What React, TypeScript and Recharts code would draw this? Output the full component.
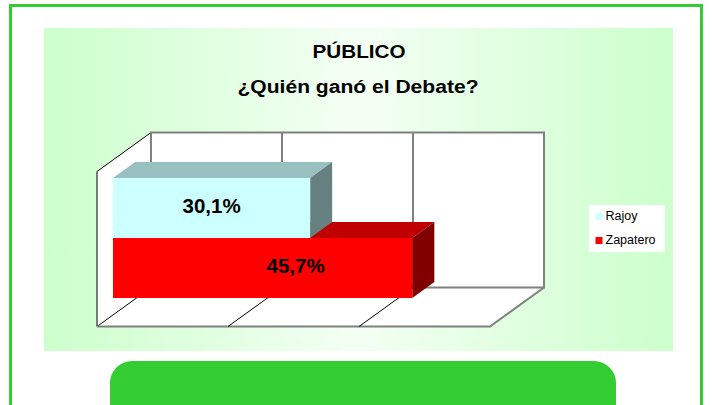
import React from 'react';
import { BarChart, Bar, XAxis, YAxis, ReferenceArea, ReferenceLine } from 'recharts';

// ---- data ----
const categories = ['Zapatero', 'Rajoy']; // drawn bottom-up (axis reversed)
const values = [45.7, 30.1];
const valueLabels = ['45,7%', '30,1%'];
const legendNames = ['Rajoy', 'Zapatero'];
const axisDomain = [0, 60];
const innerGridTicks = [20, 40];
const titleLines = ['PÚBLICO', '¿Quién ganó el Debate?'];

const data = categories.map((name, i) => ({ name, value: values[i], label: valueLabels[i] }));

// ---- styles ----
const FONT = '"Liberation Sans", Arial, Helvetica, sans-serif';
const COLORS: Record<string, { front: string; top: string; side: string }> = {
  Rajoy: { front: '#ccffff', top: '#99c0c0', side: '#668080' },
  Zapatero: { front: '#ff0000', top: '#c00000', side: '#800000' },
};
const LABEL_POS: Record<string, number> = { Rajoy: 0.5, Zapatero: 0.61 };

// 3D depth geometry (styling)
const BAR_DX = 22;
const BAR_DY = -16;
const BACK_DX = 38;
const BACK_DY = -27.5;
const FRONT_DX = -16;
const FRONT_DY = 11.5;
const PAD_TOP = 18;
const PAD_BOTTOM = 17;
const GRAY = '#808080';

const pts = (arr: number[][]) => arr.map((p) => `${p[0]},${p[1]}`).join(' ');

const WallsShape = (props: any) => {
  const { x, y, width, height } = props;
  const left = x;
  const right = x + width;
  const top = y - PAD_TOP;
  const bottom = y + height + PAD_BOTTOM;
  const bl = [left + BACK_DX, bottom + BACK_DY];
  const tl = [left + BACK_DX, top + BACK_DY];
  const tr = [right + BACK_DX, top + BACK_DY];
  const br = [right + BACK_DX, bottom + BACK_DY];
  const ftl = [left + FRONT_DX, top + FRONT_DY];
  const fbl = [left + FRONT_DX, bottom + FRONT_DY];
  const fbr = [right + FRONT_DX, bottom + FRONT_DY];
  return (
    <g>
      <polygon points={pts([tl, tr, br, bl])} fill="#ffffff" />
      <polygon points={pts([ftl, tl, bl, fbl])} fill="#ffffff" />
      <polygon points={pts([fbl, bl, br, fbr])} fill="#ffffff" />
      {/* left wall */}
      <polyline points={pts([fbl, ftl, tl])} fill="none" stroke="#000" strokeWidth={1} />
      <line x1={fbl[0]} y1={fbl[1]} x2={bl[0]} y2={bl[1]} stroke="#000" strokeWidth={1} />
      {/* back wall outline */}
      <polygon points={pts([tl, tr, br, bl])} fill="none" stroke={GRAY} strokeWidth={2} />
      {/* floor front & right edge */}
      <polyline points={pts([fbl, fbr, br])} fill="none" stroke={GRAY} strokeWidth={2} />
    </g>
  );
};

const GridShape = (props: any) => {
  const { x1, y1, y2 } = props;
  const top = Math.min(y1, y2) - PAD_TOP;
  const bottom = Math.max(y1, y2) + PAD_BOTTOM;
  return (
    <g>
      <line x1={x1 + BACK_DX} y1={top + BACK_DY} x2={x1 + BACK_DX} y2={bottom + BACK_DY} stroke={GRAY} strokeWidth={2} />
      <line x1={x1 + BACK_DX} y1={bottom + BACK_DY} x2={x1 + FRONT_DX} y2={bottom + FRONT_DY} stroke="#000" strokeWidth={1} />
    </g>
  );
};

const Bar3D = (props: any) => {
  const { x, y, width, height, payload } = props;
  const c = COLORS[payload.name];
  const top = pts([[x, y], [x + BAR_DX, y + BAR_DY], [x + width + BAR_DX, y + BAR_DY], [x + width, y]]);
  const side = pts([[x + width, y], [x + width + BAR_DX, y + BAR_DY], [x + width + BAR_DX, y + height + BAR_DY], [x + width, y + height]]);
  return (
    <g>
      <polygon points={top} fill={c.top} />
      <polygon points={side} fill={c.side} />
      <rect x={x} y={y} width={width} height={height} fill={c.front} />
      <text
        x={x + width * LABEL_POS[payload.name]}
        y={y + height / 2 + 4.5}
        textAnchor="middle"
        fontFamily={FONT}
        fontWeight="bold"
        fontSize={20.5}
        fill="#000"
      >
        {payload.label}
      </text>
    </g>
  );
};

export default function App() {
  return (
    <div style={{ position: 'absolute', left: 0, top: 0, width: 712, height: 405, overflow: 'hidden', background: '#ffffff' }}>
      {/* outer green frame */}
      <div style={{ position: 'absolute', left: 9, top: 4, width: 694, height: 460, boxSizing: 'border-box', border: '3px solid #33cc33' }} />
      {/* gradient panel */}
      <div
        style={{
          position: 'absolute',
          left: 44,
          top: 28,
          width: 629,
          height: 323,
          background: 'linear-gradient(to right, #ccffcc 0%, #f4fff4 50%, #ccffcc 100%)',
        }}
      />
      {/* green rounded box */}
      <div style={{ position: 'absolute', left: 110, top: 361, width: 506, height: 100, borderRadius: 22, background: '#33cc33' }} />

      <div style={{ position: 'absolute', left: 0, top: 0 }}>
        <BarChart
          width={712}
          height={405}
          data={data}
          layout="vertical"
          margin={{ top: 178, right: 206, bottom: 107, left: 113 }}
          barCategoryGap={0}
          barGap={0}
        >
          <XAxis type="number" domain={axisDomain} hide />
          <YAxis type="category" dataKey="name" hide reversed />
          <ReferenceArea x1={axisDomain[0]} x2={axisDomain[1]} ifOverflow="visible" shape={WallsShape} zIndex={-90} />
          {innerGridTicks.map((t) => (
            <ReferenceLine key={t} x={t} ifOverflow="visible" shape={GridShape} zIndex={-80} />
          ))}
          <Bar dataKey="value" isAnimationActive={false} shape={Bar3D} zIndex={300} />
        </BarChart>
      </div>

      {/* title + legend */}
      <svg width={712} height={405} style={{ position: 'absolute', left: 0, top: 0, pointerEvents: 'none' }}>
        <text x={359} y={57.5} textAnchor="middle" fontFamily={FONT} fontWeight="bold" fontSize={17.5} textLength={93} lengthAdjust="spacingAndGlyphs" fill="#000">
          {titleLines[0]}
        </text>
        <text x={358} y={92.5} textAnchor="middle" fontFamily={FONT} fontWeight="bold" fontSize={17.5} textLength={241} lengthAdjust="spacingAndGlyphs" fill="#000">
          {titleLines[1]}
        </text>
        <rect x={589} y={205} width={76} height={47} fill="#ffffff" />
        {legendNames.map((n, i) => (
          <g key={n}>
            <rect x={595.5} y={213 + i * 24} width={7} height={7} fill={COLORS[n].front} />
            <text x={605.5} y={220 + i * 24} fontFamily={FONT} fontSize={12.5} fill="#000">
              {n}
            </text>
          </g>
        ))}
      </svg>
    </div>
  );
}
